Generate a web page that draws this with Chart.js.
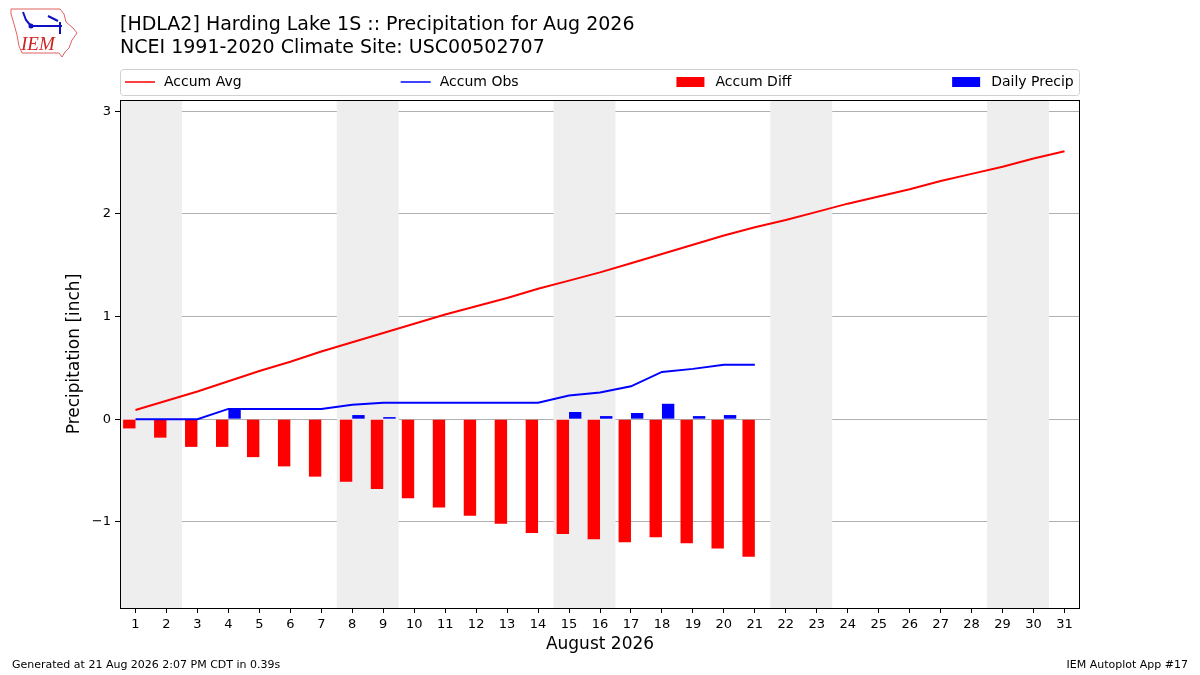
<!DOCTYPE html>
<html lang="en">
<head>
    <meta charset="UTF-8">
    <title>Harding Lake 1S Precipitation Aug 2026</title>
    <script src="https://cdn.jsdelivr.net/npm/chart.js@4.4.1/dist/chart.umd.min.js"></script>
    <style>
        body { margin: 0; background: #fff; }
        #wrap { width: 1200px; height: 675px; position: relative; }
    </style>
</head>
<body>

<div id="wrap"><canvas id="chart" width="1200" height="675"></canvas></div>

<script>

    const days = [];
    for (let d = 1; d <= 31; d++) days.push(d);

    const accumAvg = [0.09, 0.18, 0.27, 0.37, 0.47, 0.56, 0.66, 0.75, 0.84, 0.93,
        1.02, 1.10, 1.18, 1.27, 1.35, 1.43, 1.52, 1.61, 1.70, 1.79,
        1.87, 1.94, 2.02, 2.10, 2.17, 2.24, 2.32, 2.39, 2.46, 2.54, 2.61];

    const accumObs = [0.00, 0.00, 0.00, 0.10, 0.10, 0.10, 0.10, 0.14, 0.16, 0.16,
        0.16, 0.16, 0.16, 0.16, 0.23, 0.26, 0.32, 0.46, 0.49, 0.53, 0.53];

    const accumDiff = [-0.09, -0.18, -0.27, -0.27, -0.37, -0.46, -0.56, -0.61, -0.68, -0.77,
        -0.86, -0.94, -1.02, -1.11, -1.12, -1.17, -1.20, -1.15, -1.21, -1.26, -1.34];

    const dailyPrecip = [0.00, 0.00, 0.00, 0.10, 0.00, 0.00, 0.00, 0.04, 0.02, 0.00,
        0.00, 0.00, 0.00, 0.00, 0.07, 0.03, 0.06, 0.15, 0.03, 0.04, 0.00];

    const yTicks = [-1, 0, 1, 2, 3];
    const weekendStarts = [1, 8, 15, 22, 29];

    const titleLines = ['[HDLA2] Harding Lake 1S :: Precipitation for Aug 2026',
        'NCEI 1991-2020 Climate Site: USC00502707'];
    const footerLeft = 'Generated at 21 Aug 2026 2:07 PM CDT in 0.39s';
    const footerRight = 'IEM Autoplot App #17';

    const FONT = '"DejaVu Sans", sans-serif';

    function pts(vals) {
        return vals.map((v, i) => ({x: days[i], y: v}));
    }

    // grey bands behind the weekends
    const weekendPlugin = {
        id: 'weekends',
        beforeDatasetsDraw(chart) {
            const {ctx, chartArea, scales} = chart;
            ctx.save();
            ctx.fillStyle = '#eeeeee';
            weekendStarts.forEach((d) => {
                const x0 = scales.x.getPixelForValue(d - 0.5);
                const x1 = scales.x.getPixelForValue(d + 1.5);
                ctx.fillRect(x0, chartArea.top, x1 - x0, chartArea.bottom - chartArea.top);
            });
            ctx.restore();
        }
    };

    // titles, legend box, logo, footer and frame
    const decorPlugin = {
        id: 'decor',
        afterDraw(chart) {
            const {ctx, chartArea} = chart;
            ctx.save();

            // frame
            ctx.strokeStyle = '#000';
            ctx.lineWidth = 1;
            ctx.strokeRect(chartArea.left + 0.5, chartArea.top + 0.5,
                chartArea.right - chartArea.left - 1, chartArea.bottom - chartArea.top);

            // title
            ctx.fillStyle = '#000';
            ctx.font = '19px ' + FONT;
            ctx.textBaseline = 'middle';
            ctx.textAlign = 'left';
            ctx.fillText(titleLines[0], 120, 25);
            ctx.fillText(titleLines[1], 120, 48);

            // legend
            const lx = chartArea.left, lw = chartArea.right - chartArea.left;
            const ly = 69, lh = 26;
            ctx.strokeStyle = '#d0d0d0';
            ctx.fillStyle = 'rgba(255,255,255,0.8)';
            ctx.beginPath();
            ctx.roundRect(lx + 0.5, ly + 0.5, lw - 1, lh, 3);
            ctx.fill();
            ctx.stroke();
            const items = chart.data.datasets;
            const order = [2, 3, 0, 1];
            ctx.font = '14px ' + FONT;
            order.forEach((idx, i) => {
                const ds = items[idx];
                const hx = lx + 5 + i * lw * 0.2872;
                const cy = ly + lh / 2;
                if (ds.type === 'line') {
                    ctx.strokeStyle = ds.borderColor;
                    ctx.lineWidth = 1.5;
                    ctx.beginPath();
                    ctx.moveTo(hx, cy);
                    ctx.lineTo(hx + 30, cy);
                    ctx.stroke();
                } else {
                    ctx.fillStyle = ds.backgroundColor;
                    ctx.fillRect(hx, cy - 5, 28, 10);
                }
                ctx.fillStyle = '#000';
                ctx.fillText(ds.label, hx + 39, cy);
            });

            // logo
            ctx.strokeStyle = '#e06060';
            ctx.lineWidth = 1;
            ctx.beginPath();
            ctx.moveTo(11, 9); ctx.lineTo(60, 9); ctx.lineTo(64, 14); ctx.lineTo(66, 22);
            ctx.lineTo(73, 28); ctx.lineTo(77, 33); ctx.lineTo(72, 40); ctx.lineTo(69, 48);
            ctx.lineTo(65, 52); ctx.lineTo(62, 57); ctx.lineTo(59, 53); ctx.lineTo(22, 53);
            ctx.lineTo(19, 46); ctx.lineTo(17, 35); ctx.lineTo(14, 24); ctx.lineTo(11, 14);
            ctx.closePath();
            ctx.stroke();
            ctx.strokeStyle = '#1010c0';
            ctx.fillStyle = '#1010c0';
            ctx.lineWidth = 2;
            ctx.beginPath();
            ctx.moveTo(31, 26); ctx.lineTo(62, 26);
            ctx.moveTo(23, 12); ctx.lineTo(26, 20); ctx.lineTo(31, 26);
            ctx.moveTo(48, 16); ctx.lineTo(58, 21);
            ctx.moveTo(60, 22); ctx.lineTo(60, 34);
            ctx.stroke();
            ctx.beginPath();
            ctx.arc(31, 26, 2.5, 0, Math.PI * 2);
            ctx.fill();
            ctx.fillStyle = '#d02020';
            ctx.font = 'italic 19px "Liberation Serif", serif';
            ctx.textAlign = 'left';
            ctx.fillText('IEM', 21, 45);

            // footer
            ctx.fillStyle = '#000';
            ctx.font = '11px ' + FONT;
            ctx.textAlign = 'left';
            ctx.fillText(footerLeft, 12, 665);
            ctx.textAlign = 'right';
            ctx.fillText(footerRight, 1188, 665);

            ctx.restore();
        }
    };

    function minusFmt(v) {
        return v < 0 ? '\u2212' + Math.abs(v) : String(v);
    }

    const ctx = document.getElementById('chart').getContext('2d');
    const myChart = new Chart(ctx, {
        type: 'bar',
        data: {
            datasets: [
                {
                    type: 'bar', label: 'Accum Diff', data: pts(accumDiff),
                    backgroundColor: '#ff0000', borderWidth: 0,
                    categoryPercentage: 0.8, barPercentage: 1.0, order: 2
                },
                {
                    type: 'bar', label: 'Daily Precip', data: pts(dailyPrecip),
                    backgroundColor: '#0000ff', borderWidth: 0,
                    categoryPercentage: 0.8, barPercentage: 1.0, order: 3
                },
                {
                    type: 'line', label: 'Accum Avg', data: pts(accumAvg),
                    borderColor: '#ff0000', borderWidth: 2, pointRadius: 0,
                    tension: 0, fill: false, order: 1
                },
                {
                    type: 'line', label: 'Accum Obs', data: pts(accumObs),
                    borderColor: '#0000ff', borderWidth: 2, pointRadius: 0,
                    tension: 0, fill: false, order: 0
                }
            ]
        },
        options: {
            responsive: false,
            animation: false,
            devicePixelRatio: 1,
            layout: {padding: {left: 60, top: 100, right: 120, bottom: 20}},
            plugins: {
                legend: {display: false},
                tooltip: {enabled: false}
            },
            scales: {
                x: {
                    type: 'linear',
                    min: 0.5, max: 31.5,
                    offset: false,
                    grid: {display: true, offset: false, drawOnChartArea: false, drawTicks: true,
                        tickLength: 5, color: '#000'},
                    border: {display: false},
                    afterBuildTicks(scale) {
                        scale.ticks = days.map((d) => ({value: d}));
                    },
                    ticks: {autoSkip: false, maxRotation: 0, color: '#000', padding: 4,
                        font: {family: FONT, size: 13}},
                    title: {display: true, text: 'August 2026', color: '#000',
                        font: {family: FONT, size: 17}, padding: {top: 4, bottom: 0}},
                    afterFit(scale) { scale.height = 47; }
                },
                y: {
                    min: -1.84, max: 3.11,
                    grid: {color: '#b0b0b0', lineWidth: 1, tickLength: 5, tickColor: '#000'},
                    border: {display: false},
                    afterBuildTicks(scale) {
                        scale.ticks = yTicks.map((v) => ({value: v}));
                    },
                    ticks: {color: '#000', padding: 4,
                        font: {family: FONT, size: 13}, callback: minusFmt},
                    title: {display: true, text: 'Precipitation [inch]', color: '#000',
                        font: {family: FONT, size: 17}, padding: {top: 4, bottom: 4}},
                    afterFit(scale) { scale.width = 60; }
                }
            }
        },
        plugins: [weekendPlugin, decorPlugin]
    });

</script>

</body>
</html>
